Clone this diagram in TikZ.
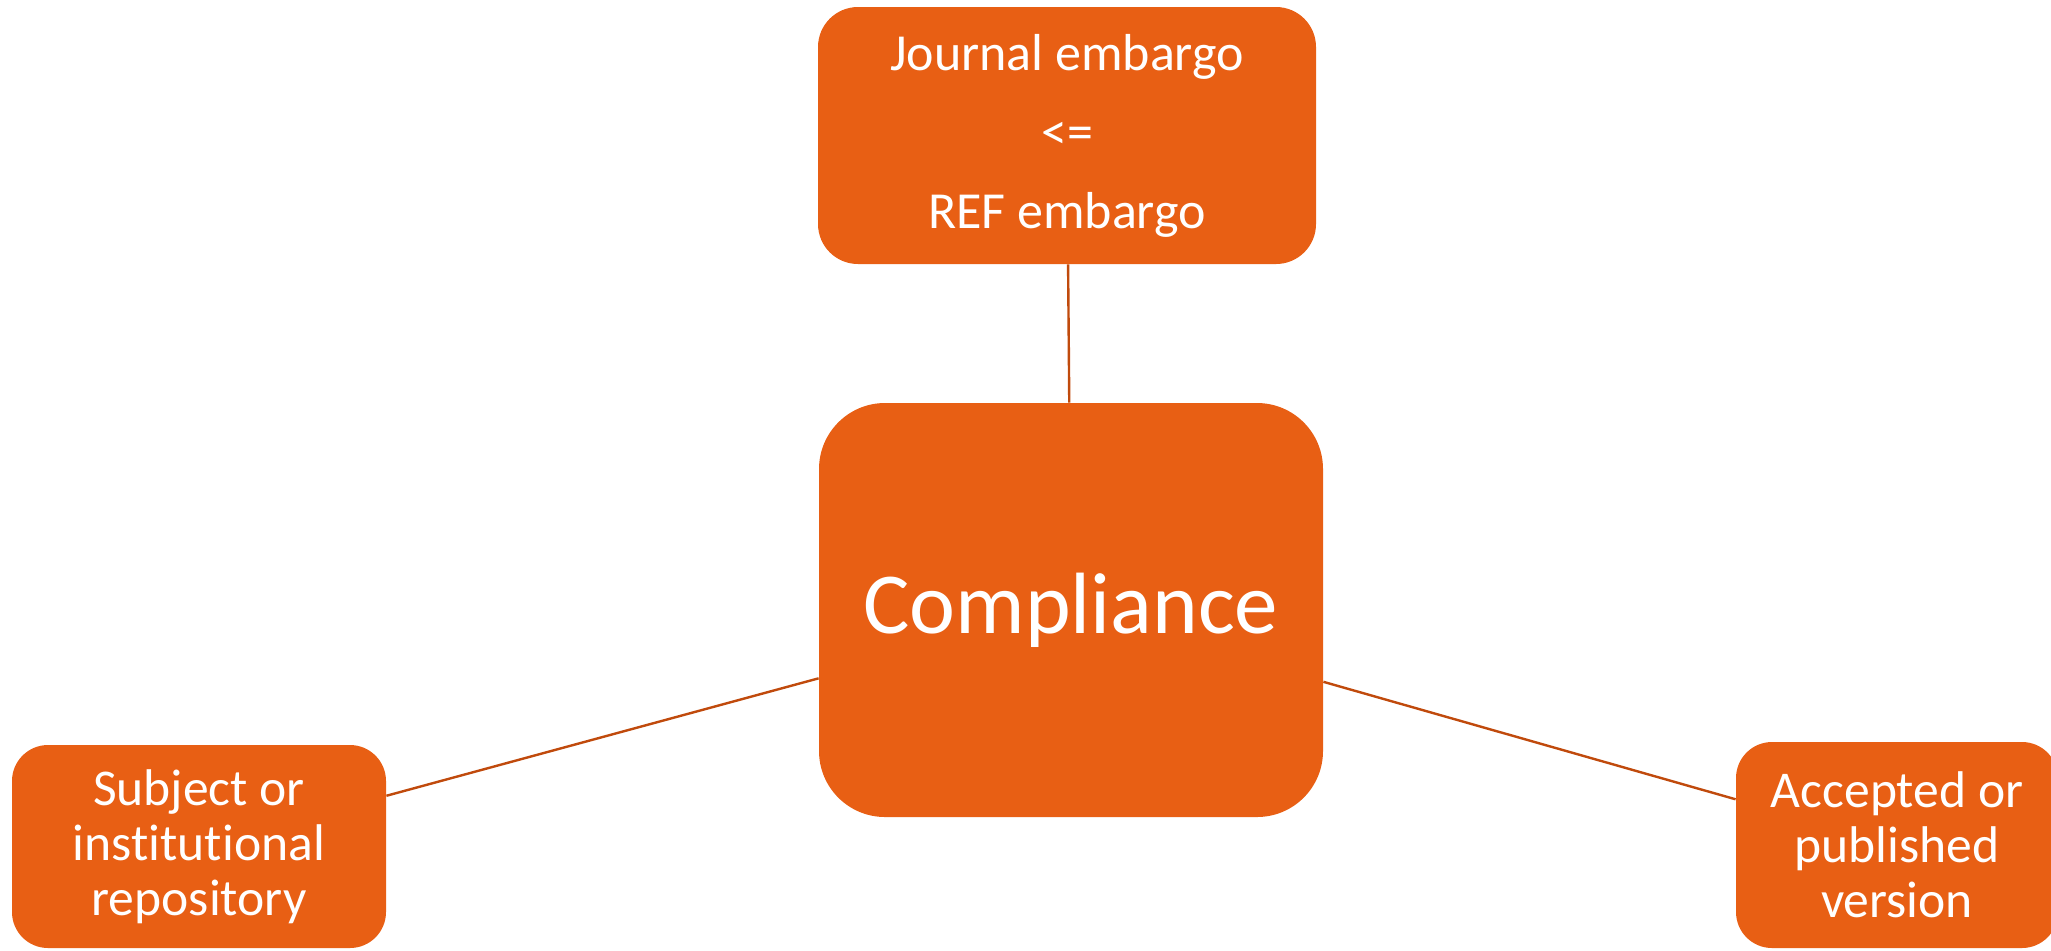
\documentclass[tikz,border=0pt]{standalone}
\usepackage{fontspec}
\setmainfont{Carlito}[RawFeature={-liga;-dlig;-clig}]
\definecolor{boxorange}{HTML}{E85F14}
\definecolor{linkorange}{HTML}{C04A0C}
\begin{document}
\begin{tikzpicture}[x=0.5pt,y=-0.5pt,
  box/.style={rectangle, fill=boxorange, text=white, align=center, inner sep=0pt},
  link/.style={draw=linkorange, line width=1.2pt}]
\useasboundingbox (0,0) rectangle (2051,950);
\clip (0,0) rectangle (2051,950);
\node[box, minimum width=249pt, minimum height=128.5pt, rounded corners=20pt,
  font=\fontsize{26}{39.5}\selectfont] (top) at (1067,135.5) {Journal embargo\\<=\\REF embargo};
\node[box, minimum width=252pt, minimum height=207pt, rounded corners=33pt,
  font=\fontsize{43.5}{52}\selectfont] (mid) at (1071,610) {Compliance};
\node[box, minimum width=187pt, minimum height=101.5pt, rounded corners=18pt,
  font=\fontsize{25.8}{27.5}\selectfont] (left) at (199,846.5) {Subject or\\institutional\\repository};
\node[box, minimum width=161pt, minimum height=103pt, rounded corners=18pt,
  font=\fontsize{25.8}{27.5}\selectfont] (right) at (1897,845) {Accepted or\\published\\version};
\draw[link] (top) -- (mid);
\draw[link] (left) -- (mid);
\draw[link] (mid) -- (right);
\end{tikzpicture}
\end{document}
